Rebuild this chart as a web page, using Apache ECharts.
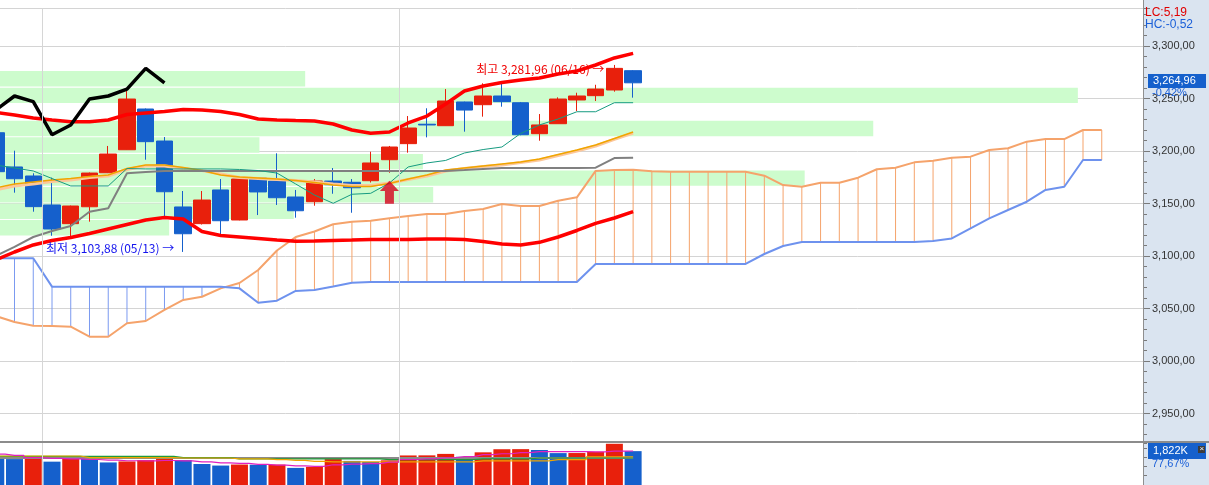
<!DOCTYPE html>
<html>
<head>
<meta charset="utf-8">
<script src="https://cdn.jsdelivr.net/npm/echarts@6.0.0/dist/echarts.min.js"></script>
<style>
html, body { margin: 0; padding: 0; background: #fff; }
#chart { width: 1209px; height: 485px; }
</style>
</head>
<body>
<div id="chart"></div>
<script>
// 일봉 데이터 (첫 봉 = 인덱스 -1)
const FIRST = -1
const dates = ['04/28', '04/29', '04/30', '05/03', '05/04', '05/06', '05/07', '05/10', '05/11', '05/12', '05/13', '05/14', '05/17', '05/18', '05/20', '05/21', '05/24', '05/25', '05/26', '05/27', '05/28', '05/31', '06/01', '06/02', '06/03', '06/04', '06/07', '06/08', '06/09', '06/10', '06/11', '06/14', '06/15', '06/16', '06/17']
const opens = [3217.4, 3184.8, 3176.2, 3148.6, 3130.8, 3146.9, 3179.3, 3201.2, 3240.0, 3209.5, 3146.7, 3130.8, 3162.9, 3134.3, 3174.3, 3171.4, 3156.2, 3151.7, 3171.4, 3170.2, 3171.7, 3191.7, 3207.0, 3225.5, 3224.1, 3246.7, 3244.1, 3252.4, 3246.0, 3216.5, 3226.0, 3248.6, 3252.7, 3258.1, 3276.5]
const closes = [3180.3, 3173.6, 3147.0, 3125.7, 3147.6, 3179.0, 3197.1, 3249.5, 3208.9, 3161.2, 3121.2, 3153.3, 3133.6, 3173.3, 3161.0, 3155.5, 3143.1, 3171.4, 3167.9, 3165.0, 3188.6, 3203.8, 3221.9, 3224.8, 3247.6, 3239.0, 3252.4, 3247.0, 3215.5, 3224.8, 3249.5, 3252.4, 3259.0, 3278.7, 3264.96]
const lows = [3175.0, 3160.3, 3142.2, 3119.3, 3118.4, 3132.7, 3179.0, 3201.0, 3191.7, 3137.4, 3103.88, 3130.0, 3119.3, 3134.0, 3139.0, 3148.6, 3136.5, 3147.9, 3159.3, 3141.2, 3170.0, 3179.3, 3198.4, 3213.0, 3224.0, 3218.4, 3232.7, 3242.2, 3215.0, 3209.8, 3226.0, 3238.1, 3247.6, 3256.5, 3250.8]
const highs = [3232.0, 3200.3, 3178.8, 3174.6, 3148.0, 3179.5, 3204.8, 3257.1, 3240.5, 3213.3, 3161.9, 3161.9, 3173.3, 3176.2, 3174.5, 3197.8, 3162.9, 3173.3, 3183.8, 3173.3, 3199.3, 3204.8, 3233.3, 3240.7, 3259.0, 3247.0, 3264.5, 3264.5, 3246.7, 3235.2, 3251.1, 3255.5, 3263.1, 3281.96, 3277.0]
// 거래량 (K)
const volumes = [1452, 1394, 1519, 1256, 1452, 1445, 1214, 1268, 1339, 1452, 1339, 1130, 1046, 1101, 1090, 1098, 921, 975, 1394, 1297, 1243, 1327, 1590, 1595, 1674, 1519, 1758, 1925, 1930, 1883, 1716, 1720, 1787, 2218, 1822]
const volMa1 = [1661, 1590, 1477, 1431, 1402, 1373, 1339, 1306, 1297, 1318, 1297, 1243, 1193, 1159, 1113, 1067, 1034, 1004, 1088, 1122, 1151, 1235, 1373, 1402, 1465, 1528, 1632, 1682, 1737, 1791, 1800, 1791, 1787, 1821, 1829]
const volMa2 = [1536, 1536, 1536, 1536, 1536, 1536, 1536, 1536, 1536, 1536, 1477, 1477, 1477, 1410, 1410, 1410, 1410, 1410, 1410, 1410, 1410, 1369, 1369, 1369, 1369, 1369, 1410, 1410, 1410, 1452, 1452, 1452, 1452, 1452, 1452]
const volMa3 = [1561, 1561, 1561, 1561, 1561, 1477, 1477, 1477, 1477, 1477, 1452, 1452, 1452, 1410, 1410, 1369, 1327, 1268, 1243, 1243, 1243, 1243, 1243, 1243, 1243, 1243, 1297, 1297, 1297, 1297, 1369, 1369, 1519, 1519, 1519]
const volMa4 = [1456, 1456, 1455, 1455, 1455, 1454, 1454, 1454, 1453, 1453, 1453, 1452, 1452, 1452, 1451, 1451, 1451, 1450, 1450, 1450, 1450, 1450, 1451, 1451, 1451, 1452, 1452, 1452, 1452, 1452, 1452, 1452, 1452, 1452, 1452]
// 지표
const bollUpper = [3236.7, 3234.3, 3231.4, 3229.5, 3227.9, 3227.9, 3229.5, 3234.8, 3236.2, 3237.6, 3239.5, 3239.0, 3237.6, 3234.8, 3230.5, 3229.5, 3229.0, 3228.6, 3225.7, 3220.0, 3216.9, 3218.1, 3226.7, 3233.3, 3244.8, 3257.1, 3261.9, 3265.2, 3267.6, 3269.5, 3273.3, 3276.2, 3281.9, 3288.6, 3293.0]
const bollLower = [3096.2, 3103.8, 3110.5, 3114.8, 3117.6, 3121.4, 3125.7, 3130.0, 3134.3, 3136.7, 3135.2, 3123.3, 3119.5, 3118.1, 3116.7, 3115.2, 3114.0, 3114.3, 3114.8, 3115.2, 3115.7, 3115.7, 3115.7, 3116.2, 3116.2, 3115.7, 3113.8, 3111.4, 3110.5, 3113.0, 3118.1, 3124.3, 3131.1, 3136.2, 3142.2]
const tenkan = [3186.7, 3183.8, 3181.0, 3173.8, 3166.7, 3166.7, 3166.7, 3183.3, 3182.9, 3182.9, 3182.9, 3182.9, 3182.9, 3182.4, 3181.4, 3179.0, 3168.6, 3158.1, 3150.2, 3158.8, 3159.7, 3169.5, 3184.8, 3188.6, 3191.0, 3198.1, 3201.4, 3203.8, 3216.7, 3224.8, 3230.5, 3237.4, 3237.4, 3246.0, 3246.0]
const kijun = [3100.0, 3108.6, 3118.1, 3123.8, 3128.6, 3142.2, 3145.4, 3178.8, 3180.0, 3181.0, 3181.0, 3181.0, 3181.0, 3181.0, 3181.0, 3181.0, 3181.0, 3181.0, 3181.0, 3181.0, 3181.0, 3181.0, 3181.0, 3181.0, 3181.0, 3181.9, 3182.9, 3183.8, 3183.8, 3183.8, 3183.8, 3183.8, 3184.1, 3193.3, 3193.6]
const maShort = [3164.8, 3168.6, 3170.5, 3172.4, 3173.8, 3175.7, 3177.1, 3183.3, 3186.7, 3186.7, 3184.3, 3181.4, 3177.1, 3175.2, 3174.3, 3173.3, 3171.9, 3170.0, 3167.6, 3166.2, 3166.2, 3169.0, 3173.3, 3177.1, 3181.9, 3183.8, 3185.7, 3187.6, 3189.5, 3192.4, 3196.7, 3201.0, 3205.7, 3211.9, 3218.1]
const maLong = [3162.9, 3166.7, 3168.6, 3171.0, 3172.4, 3174.8, 3176.2, 3182.4, 3185.7, 3185.7, 3183.3, 3181.4, 3178.1, 3174.8, 3173.8, 3172.9, 3171.9, 3170.5, 3168.6, 3167.1, 3167.1, 3169.5, 3172.9, 3176.2, 3181.0, 3183.3, 3185.2, 3186.7, 3189.0, 3191.4, 3195.7, 3200.0, 3204.8, 3211.0, 3217.1]
// 선행스팬 (인덱스 -1 ~ 58)
const spanA = [3042.9, 3037.1, 3033.6, 3033.3, 3032.7, 3023.1, 3023.1, 3035.9, 3038.1, 3048.6, 3058.1, 3061.2, 3069.2, 3074.3, 3086.7, 3105.2, 3118.1, 3123.3, 3130.2, 3132.7, 3133.6, 3135.9, 3138.1, 3140.0, 3140.0, 3142.9, 3144.8, 3149.5, 3147.6, 3147.6, 3152.7, 3155.9, 3181.0, 3181.9, 3182.2, 3180.8, 3180.3, 3180.3, 3180.3, 3180.3, 3180.3, 3176.5, 3167.6, 3166.0, 3169.8, 3169.8, 3174.6, 3182.6, 3184.1, 3189.2, 3190.8, 3193.6, 3194.6, 3201.0, 3202.6, 3208.9, 3211.4, 3211.4, 3220.0, 3220.0]
const spanB = [3097.8, 3097.8, 3097.8, 3070.8, 3070.8, 3070.8, 3070.8, 3070.8, 3070.8, 3070.8, 3070.8, 3070.8, 3070.8, 3069.2, 3055.5, 3057.4, 3066.7, 3067.6, 3071.0, 3074.6, 3075.2, 3075.2, 3075.2, 3075.2, 3075.2, 3075.2, 3075.2, 3075.2, 3075.2, 3075.2, 3075.2, 3075.2, 3092.4, 3092.4, 3092.4, 3092.4, 3092.4, 3092.4, 3092.4, 3092.4, 3092.4, 3101.9, 3109.5, 3113.3, 3113.3, 3113.3, 3113.3, 3113.3, 3113.3, 3113.3, 3114.3, 3116.7, 3126.4, 3135.9, 3143.8, 3151.7, 3162.9, 3166.0, 3191.4, 3191.4]
// 매물대
const bandRows = ['3,261~3,277', '3,245~3,261', '3,230~3,245', '3,214~3,230', '3,198~3,214', '3,182~3,198', '3,166~3,182', '3,151~3,166', '3,135~3,151', '3,119~3,135']
const bandShare = [26.7, 94.3, 0, 76.4, 22.7, 37.0, 70.4, 37.9, 25.7, 14.8]
// 신호
const signals = [[20, 3160.8]]

const UP = '#e8200c'
const DOWN = '#1560cc'
const FONT = 'Liberation Sans'
const KFONT = 'Noto Sans CJK KR'

function fmt(v) {
  const [i, f] = v.toFixed(2).split('.')
  return i.replace(/\B(?=(\d{3})+(?!\d))/g, ',') + ',' + f
}
const xy = (arr) => arr.map((v, k) => [k + FIRST, v])

const candles = dates.map((d, k) => [k + FIRST, opens[k], closes[k], lows[k], highs[k]])
// 후행스팬: 종가를 25봉 뒤로
const chikou = closes.slice(25).map((c, k) => [k + FIRST, c])
const monthLines = []
dates.forEach((d, k) => {
  if (k > 0 && d.slice(0, 2) !== dates[k - 1].slice(0, 2)) monthLines.push(k + FIRST - 0.5)
})
const hiK = highs.indexOf(Math.max(...highs))
const loK = lows.indexOf(Math.min(...lows))
const last = closes[closes.length - 1]
const prev = closes[closes.length - 2]
const chg = ((last - prev) / prev * 100).toFixed(2).replace('.', ',') + '%'
const lastVol = volumes[volumes.length - 1]
const volBars = volumes.map((v, k) => ({
  value: [k + FIRST, v],
  itemStyle: { color: k > 0 && v >= volumes[k - 1] ? UP : DOWN }
}))

const chartDom = document.getElementById('chart')
const myChart = echarts.init(chartDom)

function lineSeries(data, color, width, z, extra) {
  return Object.assign({
    type: 'line', data: data, symbol: 'none', silent: true, z: z,
    lineStyle: { color: color, width: width }
  }, extra || {})
}

const monthMarks = monthLines.map((x) => ({
  xAxis: x, label: { show: false },
  lineStyle: { color: '#d6d6d6', type: 'solid', width: 1 }
}))

const option = {
  animation: false,
  backgroundColor: '#ffffff',
  grid: [
    { left: 0, top: 8, width: 1143, height: 433 },
    { left: 0, top: 443, width: 1143, height: 54 },
    { left: 0, top: 70.5, width: 1143, height: 165.6 }
  ],
  xAxis: [
    { gridIndex: 0, type: 'value', min: -0.774, max: 60.2, show: false },
    { gridIndex: 1, type: 'value', min: -0.774, max: 60.2, show: false },
    { gridIndex: 2, type: 'value', min: 0, max: 100, show: false }
  ],
  yAxis: [
    {
      gridIndex: 0, type: 'value', position: 'right',
      min: 2923.8, max: 3336.2, splitNumber: 8, minInterval: 50, maxInterval: 50,
      axisLine: { show: false, onZero: false },
      axisTick: { show: true, length: 7, lineStyle: { color: '#7a7a7a' } },
      minorTick: { show: true, splitNumber: 5, length: 4, lineStyle: { color: '#7a7a7a' } },
      splitLine: { show: true, lineStyle: { color: '#d4d4d4', width: 1 } },
      axisLabel: {
        margin: 9, color: '#333', fontSize: 11, fontFamily: FONT,
        formatter: (v) => (Math.abs(v % 50) < 1e-6 ? fmt(v) : '')
      }
    },
    {
      gridIndex: 1, type: 'value', position: 'right', min: 0, max: 2260, interval: 500,
      axisLine: { show: false, onZero: false },
      axisTick: { show: true, length: 4, lineStyle: { color: '#7a7a7a' } },
      axisLabel: { show: false },
      splitLine: { show: false }
    },
    { gridIndex: 2, type: 'category', inverse: true, data: bandRows, show: false }
  ],
  graphic: [
    { type: 'rect', z: -1, silent: true, shape: { x: 1143, y: 0, width: 66, height: 485 }, style: { fill: '#dae4f0' } },
    { type: 'line', z: 50, silent: true, shape: { x1: 1143.5, y1: 0, x2: 1143.5, y2: 485 }, style: { stroke: '#8f8f8f', lineWidth: 1 } },
    { type: 'line', z: 50, silent: true, shape: { x1: 0, y1: 442, x2: 1209, y2: 442 }, style: { stroke: '#8c8c8c', lineWidth: 2 } },
    { type: 'text', z: 60, silent: true, x: 1145, y: 7, style: { text: 'LC:5,19', fill: '#e00000', font: '12px "Liberation Sans"' } },
    { type: 'text', z: 60, silent: true, x: 1145, y: 19, style: { text: 'HC:-0,52', fill: '#1a5fd8', font: '12px "Liberation Sans"' } },
    { type: 'text', z: 60, silent: true, x: 1152, y: 87, style: { text: chg, fill: '#1a5fd8', font: '11px "Liberation Sans"' } },
    { type: 'text', z: 60, silent: true, x: 1152, y: 458, style: { text: '77,67%', fill: '#1a5fd8', font: '11px "Liberation Sans"' } },
    // 현재가 / 거래량 태그
    {
      type: 'group', z: 55, silent: true,
      children: [
        { type: 'rect', shape: { x: 1148, y: 74, width: 58, height: 14 }, style: { fill: '#1560cc' } },
        { type: 'text', x: 1153, y: 75.5, style: { text: fmt(last), fill: '#fff', font: '11px "Liberation Sans"' } },
        { type: 'rect', shape: { x: 1148, y: 443, width: 58, height: 16 }, style: { fill: '#1560cc' } },
        { type: 'text', x: 1153, y: 445.5, style: { text: lastVol.toLocaleString('en-US') + 'K', fill: '#fff', font: '11px "Liberation Sans"' } },
        { type: 'rect', shape: { x: 1198, y: 446, width: 7, height: 7 }, style: { fill: '#3c3c3c' } },
        { type: 'text', x: 1199.5, y: 445, style: { text: '×', fill: '#fff', font: '8px "Liberation Sans"' } }
      ]
    }
  ],
  series: [
    {
      name: '매물대', type: 'bar', xAxisIndex: 2, yAxisIndex: 2, data: bandShare,
      barWidth: 15.4, silent: true, z: 1,
      itemStyle: { color: '#cdfccd' }
    },
    {
      name: '구름', type: 'custom', xAxisIndex: 0, yAxisIndex: 0, silent: true, z: 2,
      data: spanA.map((a, k) => [k + FIRST, a, spanB[k]]),
      encode: { x: 0, y: [1, 2] },
      renderItem: function (params, api) {
        const a = api.value(1)
        const b = api.value(2)
        const p1 = api.coord([api.value(0), a])
        const p2 = api.coord([api.value(0), b])
        return {
          type: 'line',
          shape: { x1: p1[0], y1: p1[1], x2: p2[0], y2: p2[1] },
          style: { stroke: a >= b ? '#f5a36b' : '#7b9af0', lineWidth: 1 }
        }
      }
    },
    lineSeries(xy(spanA), '#f5a36b', 2, 3),
    lineSeries(xy(spanB), '#6e92ee', 2, 3),
    {
      name: '일봉', type: 'candlestick', xAxisIndex: 0, yAxisIndex: 0, data: candles,
      barWidth: 17, z: 3, silent: true,
      itemStyle: { color: UP, color0: DOWN, borderColor: UP, borderColor0: DOWN, borderWidth: 1 },
      markLine: { symbol: ['none', 'none'], silent: true, animation: false, data: monthMarks },
      markPoint: {
        symbol: 'circle', symbolSize: 0, silent: true, animation: false,
        data: [
          {
            coord: [hiK + FIRST, highs[hiK]],
            label: {
              show: true, position: 'left', distance: 10, offset: [0, 4],
              formatter: '최고 ' + fmt(highs[hiK]) + ' (' + dates[hiK] + ') →',
              color: '#f00000', fontSize: 12, fontFamily: KFONT
            }
          },
          {
            coord: [loK + FIRST, lows[loK]],
            label: {
              show: true, position: 'left', distance: 9, offset: [0, -3],
              formatter: '최저 ' + fmt(lows[loK]) + ' (' + dates[loK] + ') →',
              color: '#1414ee', fontSize: 12, fontFamily: KFONT
            }
          }
        ]
      }
    },
    lineSeries(xy(bollUpper), '#ff0000', 3.5, 4),
    lineSeries(xy(bollLower), '#ff0000', 3.5, 4),
    lineSeries(xy(maLong), '#fcc79a', 3, 4),
    lineSeries(xy(maShort), '#f0a500', 1.5, 4),
    lineSeries(xy(kijun), '#808080', 2, 4),
    lineSeries(xy(tenkan), '#169b80', 1, 4),
    lineSeries(chikou, '#000000', 3.5, 4),
    {
      name: '신호', type: 'scatter', xAxisIndex: 0, yAxisIndex: 0, data: signals, silent: true, z: 6,
      symbol: 'path://M9.5,0 L19,10.3 L14,10.3 L14,23 L5,23 L5,10.3 L0,10.3 Z',
      symbolSize: [19, 23],
      itemStyle: { color: '#d6001c' }
    },
    {
      name: '거래량', type: 'bar', xAxisIndex: 1, yAxisIndex: 1, data: volBars,
      barWidth: 17, silent: true, z: 3,
      markLine: { symbol: ['none', 'none'], silent: true, animation: false, data: monthMarks }
    },
    lineSeries(xy(volMa4), '#8a8a8a', 2, 4, { xAxisIndex: 1, yAxisIndex: 1, step: 'middle' }),
    lineSeries(xy(volMa2), '#1f9a3a', 1.2, 4, { xAxisIndex: 1, yAxisIndex: 1, step: 'middle' }),
    lineSeries(xy(volMa3), '#f0a500', 1.2, 4, { xAxisIndex: 1, yAxisIndex: 1, step: 'middle' }),
    lineSeries(xy(volMa1), '#e020c0', 1.2, 4, { xAxisIndex: 1, yAxisIndex: 1, step: 'middle' })
  ]
}
option && myChart.setOption(option)
</script>
</body>
</html>
